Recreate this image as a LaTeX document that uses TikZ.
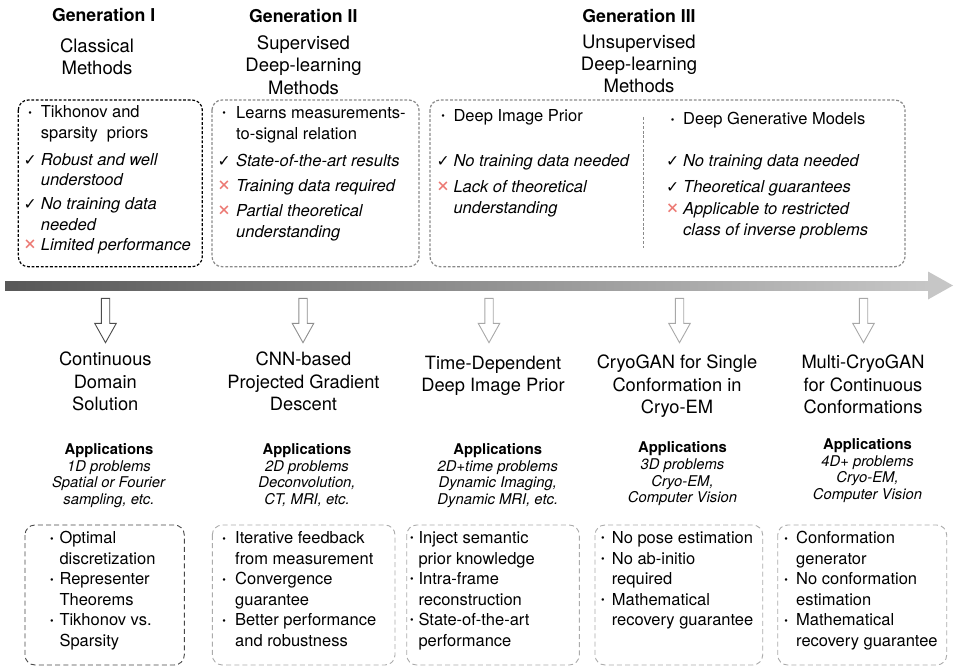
\documentclass[tikz,border=0pt]{standalone}
\usepackage{fontspec}
\usepackage{graphicx}
\setmainfont{TeX Gyre Heros}
\newfontfamily\symfont{DejaVu Sans}

\definecolor{crossred}{HTML}{EC7A74}
\definecolor{topgray}{HTML}{8A8A8A}
\definecolor{botdark}{HTML}{484848}
\definecolor{botlight}{HTML}{ABABAB}
\definecolor{barleft}{HTML}{585858}
\definecolor{barright}{HTML}{C6C6C6}
\definecolor{arrA}{HTML}{4C4C4C}
\definecolor{arrB}{HTML}{8E8E8E}
\definecolor{arrC}{HTML}{A8A8A8}

% list symbols
\newcommand\bul{\raisebox{1.6pt}{\scalebox{0.62}{•}}}
\newcommand\chk{{\symfont\bfseries\scalebox{0.95}{✓}}}
\newcommand\crs{\textcolor{crossred}{\scalebox{1.5}{×}}}
\newcommand\sy[2]{\makebox[#1][c]{#2}}
\newcommand\ind[1]{\makebox[#1]{}}

\begin{document}
\begin{tikzpicture}[x=1pt,y=-1pt,
  gen/.style={font=\fontsize{17.7}{21}\selectfont\bfseries, anchor=base, inner sep=0},
  meth/.style={font=\fontsize{18.5}{22.3}\selectfont, align=center, anchor=north,
    inner sep=0, execute at begin node=\strut},
  ttl/.style={font=\fontsize{18.3}{22.5}\selectfont, align=center, anchor=north,
    inner sep=0, execute at begin node=\strut},
  apps/.style={font=\fontsize{14.8}{16.7}\selectfont, align=center, anchor=north,
    inner sep=0, execute at begin node=\strut},
  lst/.style={font=\fontsize{16.5}{20.5}\selectfont, align=left, anchor=north west,
    inner sep=0, execute at begin node=\strut},
  topbox/.style={rounded corners=10pt, line width=1.2pt, dash pattern=on 2.8pt off 1.8pt},
  botbox/.style={rounded corners=10pt, line width=0.9pt, dash pattern=on 5pt off 3.2pt},
]
\useasboundingbox (0,0) rectangle (954,666);

% ---- generation headers
\node[gen] (g1) at (103.7,22) {Generation I};
\node[gen] (g2) at (303.3,23) {Generation II};
\node[gen] (g3) at (639,23) {Generation III};

\node[meth] (m1) at (97,38.2) {Classical\\Methods};
\node[meth] (m2) at (303.5,35.4) {Supervised\\Deep-learning\\Methods};
\node[meth] (m3) at (639,34.7) {Unsupervised\\Deep-learning\\Methods};

% ---- top boxes
\draw[topbox, black] (18.3,100) rectangle (202.3,266.7);
\draw[topbox, topgray] (212,100) rectangle (419,266.7);
\draw[topbox, topgray] (430,100) rectangle (905,266.7);
\draw[topgray, line width=1pt, dash pattern=on 2.8pt off 1.8pt] (643,117) -- (643,248);

\node[lst] (c1) at (19.3,105.65) {%
\sy{21.4pt}{\bul}Tikhonov and\\
\ind{21.4pt}sparsity\ \ priors\\[6.5pt]
\sy{21.4pt}{\chk}\textit{Robust and well}\\
\ind{21.4pt}\textit{understood}\\[3.5pt]
\sy{21.4pt}{\chk}\textit{No training data}\\
\ind{21.4pt}\textit{needed}\\
\sy{21.4pt}{\crs}\textit{Limited performance}};

\node[lst] (c2) at (212,106.35) {%
\sy{24pt}{\bul}Learns measurements-\\
\ind{24pt}to-signal relation\\[6.5pt]
\sy{24pt}{\chk}\textit{State-of-the-art results}\\[5pt]
\sy{24pt}{\crs}\textit{Training data required}\\[4.5pt]
\sy{24pt}{\crs}\textit{Partial theoretical}\\
\ind{24pt}\textit{understanding}};

\node[lst] (c3) at (432.7,108.95) {%
\sy{20.6pt}{\bul}Deep Image Prior\\[24.5pt]
\sy{20.6pt}{\chk}\textit{No training data needed}\\[6pt]
\sy{20.6pt}{\crs}\textit{Lack of theoretical}\\
\ind{20.6pt}\textit{understanding}};

\node[lst] (c4) at (662,112.35) {%
\sy{21pt}{\bul}Deep Generative Models\\[21pt]
\sy{21pt}{\chk}\textit{No training data needed}\\[5.5pt]
\sy{21pt}{\chk}\textit{Theoretical guarantees}\\[2pt]
\sy{21pt}{\crs}\textit{Applicable to restricted}\\
\ind{21pt}\textit{class of inverse problems}};

% ---- time line
\shade[left color=barleft, right color=barright] (5,281) rectangle (928.5,290);
\fill[barright] (928,271.5) -- (953,285.5) -- (928,299.5) -- cycle;

% ---- hollow down arrows
\foreach \ax/\ac in {105.5/arrA, 303/arrB, 489/arrC, 679.5/arrC, 863.5/arrC}{
  \draw[\ac, line width=0.9pt, line join=miter]
    (\ax-4.2,298.3) -- (\ax+4.2,298.3) -- (\ax+4.2,323.3) -- (\ax+10.8,323.3)
    -- (\ax,342.7) -- (\ax-10.8,323.3) -- (\ax-4.2,323.3) -- cycle;
}

% ---- method titles
\node[ttl] (s1) at (105.3,352) {Continuous\\Domain\\Solution};
\node[ttl] (s2) at (303.5,352) {CNN-based\\Projected Gradient\\Descent};
\node[ttl] (s3) at (493,355.7) {Time-Dependent\\Deep Image Prior};
\node[ttl] (s4) at (677,354.7) {CryoGAN for Single\\Conformation in\\Cryo-EM};
\node[ttl] (s5) at (863,354.7) {Multi-CryoGAN\\for Continuous\\Conformations};

% ---- applications
\node[apps] (a1) at (109,443.3) {\textbf{Applications}\\\textit{1D problems}\\\textit{Spatial or Fourier}\\\textit{sampling, etc.}};
\node[apps] (a2) at (307,443.3) {\textbf{Applications}\\\textit{2D problems}\\\textit{Deconvolution,}\\\textit{CT, MRI, etc.}};
\node[apps] (a3) at (497.8,443.3) {\textbf{Applications}\\\textit{2D+time problems}\\\textit{Dynamic Imaging,}\\\textit{Dynamic MRI, etc.}};
\node[apps] (a4) at (682.5,441.6) {\textbf{Applications}\\\textit{3D problems}\\\textit{Cryo-EM,}\\\textit{Computer Vision}};
\node[apps] (a5) at (867.5,438.3) {\textbf{Applications}\\\textit{4D+ problems}\\\textit{Cryo-EM,}\\\textit{Computer Vision}};

% ---- bottom boxes
\draw[botbox, botdark] (25,525) rectangle (184.3,665);
\draw[botbox, botlight] (212.3,525) rectangle (395,665);
\draw[botbox, botlight] (406.7,525) rectangle (579.3,665);
\draw[botbox, botlight] (595,525) rectangle (762.7,665);
\draw[botbox, botlight] (777.7,525) rectangle (946.7,665);

\node[lst] (b1) at (44.1,531.35) {%
\sy{15.2pt}{\bul}Optimal\\
\ind{15.2pt}discretization\\
\sy{15.2pt}{\bul}Representer\\
\ind{15.2pt}Theorems\\
\sy{15.2pt}{\bul}Tikhonov vs.\\
\ind{15.2pt}Sparsity};

\node[lst] (b2) at (213,531.35) {%
\sy{22pt}{\bul}Iterative feedback\\
\ind{22pt}from measurement\\
\sy{22pt}{\bul}Convergence\\
\ind{22pt}guarantee\\
\sy{22pt}{\bul}Better performance\\
\ind{22pt}and robustness};

\node[lst] (b3) at (405.1,531.35) {%
\sy{13.2pt}{\bul}Inject semantic\\
\ind{13.2pt}prior knowledge\\
\sy{13.2pt}{\bul}Intra-frame\\
\ind{13.2pt}reconstruction\\
\sy{13.2pt}{\bul}State-of-the-art\\
\ind{13.2pt}performance};

\node[lst] (b4) at (593.7,531.35) {%
\sy{18pt}{\bul}No pose estimation\\
\sy{18pt}{\bul}No ab-initio\\
\ind{18pt}required\\
\sy{18pt}{\bul}Mathematical\\
\ind{18pt}recovery guarantee};

\node[lst] (b5) at (776,531.35) {%
\sy{20pt}{\bul}Conformation\\
\ind{20pt}generator\\
\sy{20pt}{\bul}No conformation\\
\ind{20pt}estimation\\
\sy{20pt}{\bul}Mathematical\\
\ind{20pt}recovery guarantee};
\end{tikzpicture}
\end{document}
